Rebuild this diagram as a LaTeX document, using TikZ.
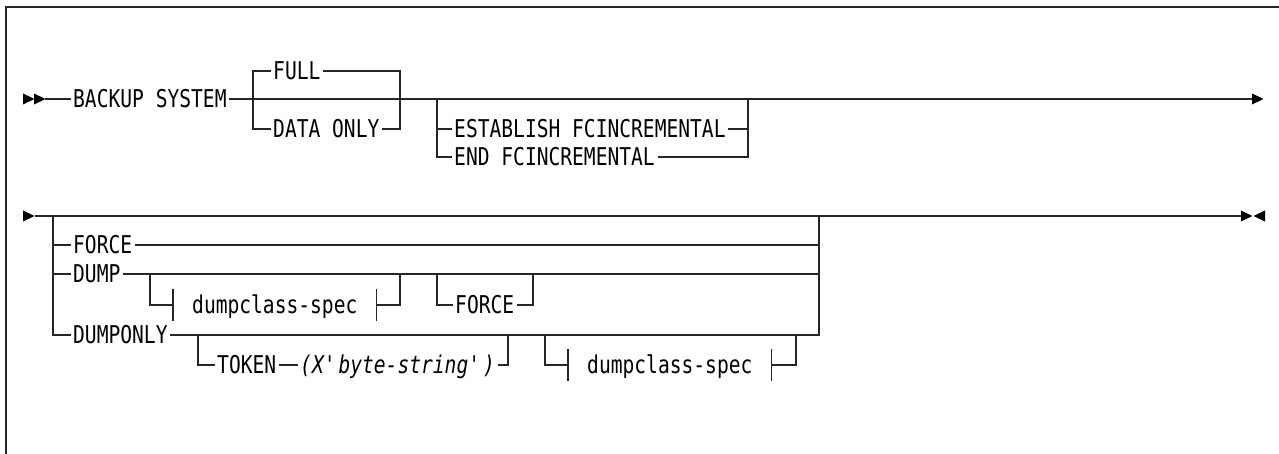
\documentclass[tikz,border=0pt]{standalone}
\usepackage{fontspec}
\newfontfamily\railfont[FakeStretch=0.8]{DejaVu Sans Mono}
\usetikzlibrary{calc}

\newcommand\tipright[1]{\fill[black] ($(#1)+(0,-5.5)$) -- ($(#1)+(11.5,0)$) -- ($(#1)+(0,5.5)$) -- cycle;}
\newcommand\tipleft[1]{\fill[black] ($(#1)+(0,-5.5)$) -- ($(#1)+(-11.5,0)$) -- ($(#1)+(0,5.5)$) -- cycle;}

\begin{document}
\begin{tikzpicture}[x=1pt,y=-1pt,
  rail/.style={line width=1.2pt,draw=black!85},
  kw/.style={font=\railfont\fontsize{24.5}{29}\selectfont,anchor=west,
    inner xsep=2.5pt,inner ysep=0pt,text height=17.9pt,text depth=0pt},
  frag/.style={kw,inner xsep=19pt}]
  \useasboundingbox (0,0) rectangle (1279,454);
  \draw[rail] (6,454) -- (6,7) -- (1279,7);

  % first line
  \coordinate (tA) at (23,99);  \coordinate (tB) at (34,99);
  \coordinate (st1) at (45,99); \coordinate (en1) at (1252,99);
  \node[kw] (bksys) at (70.5,99) {BACKUP SYSTEM};
  \node[kw] (full) at (270.5,71) {FULL};
  \node[kw] (dataonly) at (270.5,129) {DATA ONLY};
  \node[kw] (estab) at (451.5,129) {ESTABLISH FCINCREMENTAL};
  \node[kw] (endfc) at (451.5,157) {END FCINCREMENTAL};
  \tipright{tA} \tipright{tB} \tipright{en1}
  \draw[rail] (st1) -- (bksys.west);
  \draw[rail] (bksys.east) -- (en1);
  \draw[rail] (full.west) -- (253,71) -- (253,129) -- (dataonly.west);
  \draw[rail] (full.east) -- (400,71) -- (400,129) -- (dataonly.east);
  \draw[rail] (437,99) -- (437,157) -- (endfc.west);
  \draw[rail] (437,129) -- (estab.west);
  \draw[rail] (estab.east) -- (748,129);
  \draw[rail] (endfc.east) -- (748,157) -- (748,99);

  % second line
  \coordinate (tC) at (23,216); \coordinate (st2) at (35,216);
  \coordinate (en2) at (1241,216); \coordinate (tD) at (1265,216);
  \node[kw] (force) at (70.5,245) {FORCE};
  \node[kw] (dump) at (70.5,274) {DUMP};
  \node[kw] (dumponly) at (70.5,335) {DUMPONLY};
  \node[frag] (dcsA) at (173,305) {dumpclass-spec};
  \node[kw] (forceB) at (452.5,305) {FORCE};
  \node[kw] (token) at (214.5,365) {TOKEN};
  \node[kw] (bytestr) at (297.5,365) {\itshape (X\textquotesingle byte-string\textquotesingle)};
  \node[frag] (dcsB) at (568,365) {dumpclass-spec};
  \tipright{tC} \tipright{en2} \tipleft{tD}
  \draw[rail] (st2) -- (en2);
  \draw[rail] (53,216) -- (53,335) -- (dumponly.west);
  \draw[rail] (53,245) -- (force.west);
  \draw[rail] (53,274) -- (dump.west);
  \draw[rail] (force.east) -- (819,245);
  \draw[rail] (dump.east) -- (819,274);
  \draw[rail] (dumponly.east) -- (819,335) -- (819,216);
  \draw[rail] (150,274) -- (150,305) -- (dcsA.west);
  \draw[rail] (dcsA.east) -- (400,305) -- (400,274);
  \draw[rail] (437,274) -- (437,305) -- (forceB.west);
  \draw[rail] (forceB.east) -- (533,305) -- (533,274);
  \draw[rail] (198,335) -- (198,365) -- (token.west);
  \draw[rail] (token.east) -- (bytestr.west);
  \draw[rail] (bytestr.east) -- (508,365) -- (508,335);
  \draw[rail] (545,335) -- (545,365) -- (dcsB.west);
  \draw[rail] (dcsB.east) -- (796,365) -- (796,335);
  \foreach \n in {dcsA,dcsB} {
    \draw[rail] ($(\n.west)+(0,-16)$) -- ($(\n.west)+(0,16)$);
    \draw[rail] ($(\n.east)+(0,-16)$) -- ($(\n.east)+(0,16)$);
  }
\end{tikzpicture}
\end{document}
